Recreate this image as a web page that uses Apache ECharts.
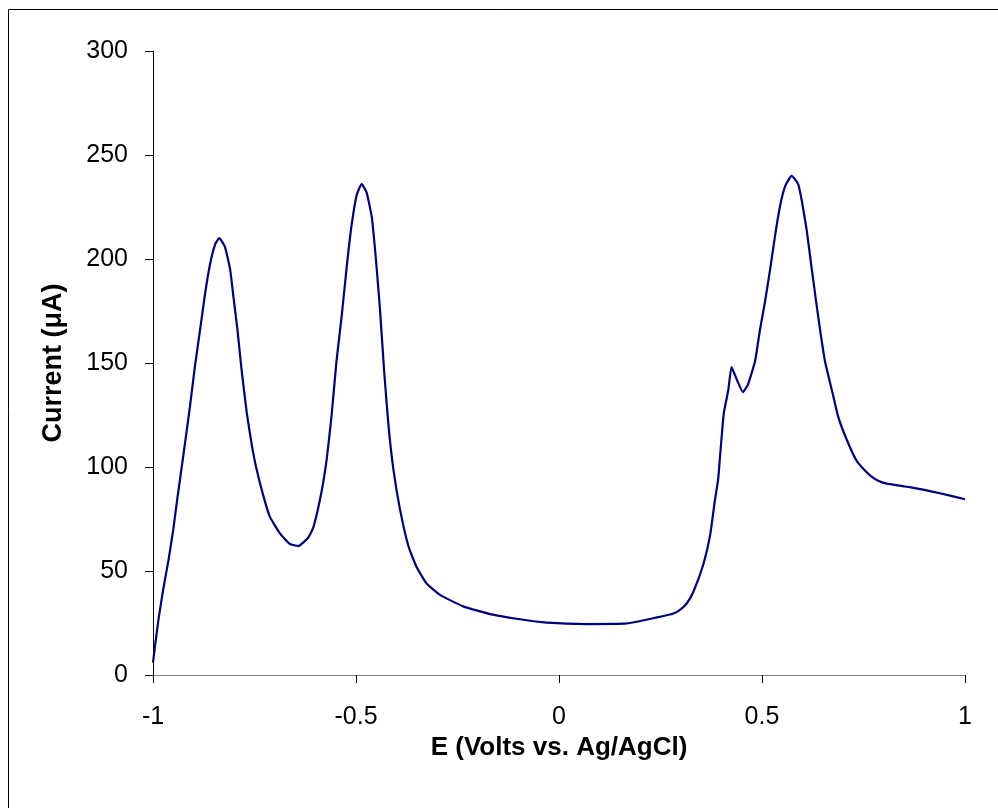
<!DOCTYPE html>
<html>
<head>
<meta charset="utf-8">
<script src="https://cdn.jsdelivr.net/npm/echarts@6/dist/echarts.min.js"></script>
<style>
html,body{margin:0;padding:0;background:#fff;}
#chart{width:998px;height:808px;}
</style>
</head>
<body>
<div id="chart"></div>
<script>
// Potential (V vs Ag/AgCl)
var potential = [
 -1.000,-0.995,-0.987,-0.975,-0.962,-0.950,-0.942,-0.925,-0.909,-0.897,
 -0.884,-0.872,-0.860,-0.847,-0.837,-0.823,-0.810,-0.802,-0.792,-0.782,
 -0.769,-0.757,-0.745,-0.728,-0.712,-0.687,-0.663,-0.642,-0.618,-0.605,
 -0.585,-0.572,-0.560,-0.548,-0.535,-0.523,-0.511,-0.498,-0.486,-0.474,
 -0.461,-0.451,-0.441,-0.431,-0.420,-0.408,-0.392,-0.371,-0.351,-0.326,
 -0.293,-0.236,-0.170,-0.096,-0.030,0.068,0.167,0.241,0.282,0.298,
 0.315,0.331,0.356,0.372,0.384,0.392,0.397,0.406,0.417,0.425,
 0.438,0.453,0.466,0.483,0.495,0.507,0.520,0.532,0.544,0.557,
 0.573,0.589,0.598,0.610,0.622,0.633,0.643,0.655,0.672,0.688,
 0.709,0.733,0.750,0.766,0.785,0.807,0.873,0.938,1.000
];
// Current (uA)
var current = [
 6,14,26,41,55,70,82,106,129,148,
 166,183,197,207,210,206,195,182,166,147,
 126,111,99,86,76,68,63,62,66,71,
 88,104,125,151,173,196,216,231,236,232,
 220,200,176,147,120,99,80,62,52,44,
 38.5,33,29.3,26.8,25.2,24.5,24.8,27.7,29.6,31.3,
 34.5,40,53.5,67,84,94,106,126,137,148,
 142,136,140,151,166,179,195,211,225,235,
 240,236,228,214,196,180,166,151,137,124,
 113,103,99,96,93.5,92,90,87.4,84.5
];
var xTicks = [-1, -0.5, 0, 0.5, 1];
var yTicks = [0, 50, 100, 150, 200, 250, 300];

var pts = potential.map(function(e, i){ return [e, current[i]]; });
var FONT = '"Liberation Sans", Arial, sans-serif';

var chart = echarts.init(document.getElementById('chart'), null, {renderer:'canvas'});
chart.setOption({
  animation: false,
  backgroundColor: '#ffffff',
  graphic: [{
    type: 'rect',
    shape: {x: 8.5, y: 9.5, width: 1200, height: 1200},
    style: {fill: 'none', stroke: '#000', lineWidth: 1},
    silent: true, z: -10
  }],
  grid: {left: 153, right: 33, top: 51, bottom: 133, containLabel: false},
  xAxis: {
    type: 'value',
    min: xTicks[0], max: xTicks[xTicks.length-1], interval: 0.5,
    name: 'E (Volts vs. Ag/AgCl)',
    nameLocation: 'middle', nameGap: 53,
    nameTextStyle: {fontFamily: FONT, fontSize: 26, fontWeight: 'bold', color: '#000'},
    axisLine: {show: true, onZero: false, lineStyle: {color: '#808080', width: 1}},
    axisTick: {show: true, inside: false, length: 8, lineStyle: {color: '#000', width: 1}},
    axisLabel: {fontFamily: FONT, fontSize: 25, color: '#000', margin: 30,
      formatter: function(v){ return String(v); }},
    splitLine: {show: false}
  },
  yAxis: {
    type: 'value',
    min: yTicks[0], max: yTicks[yTicks.length-1], interval: 50,
    name: 'Current (\u03bcA)',
    nameLocation: 'middle', nameGap: 86, nameRotate: 90,
    nameTextStyle: {fontFamily: FONT, fontSize: 27, fontWeight: 'bold', color: '#000'},
    axisLine: {show: true, onZero: false, lineStyle: {color: '#000', width: 1}},
    axisTick: {show: true, inside: false, length: 8, lineStyle: {color: '#000', width: 1}},
    axisLabel: {fontFamily: FONT, fontSize: 25, color: '#000', margin: 25},
    splitLine: {show: false}
  },
  series: [{
    type: 'line',
    data: pts,
    showSymbol: false,
    smooth: 0.15,
    lineStyle: {color: '#000080', width: 2.2},
    clip: false
  }]
});
</script>
</body>
</html>
